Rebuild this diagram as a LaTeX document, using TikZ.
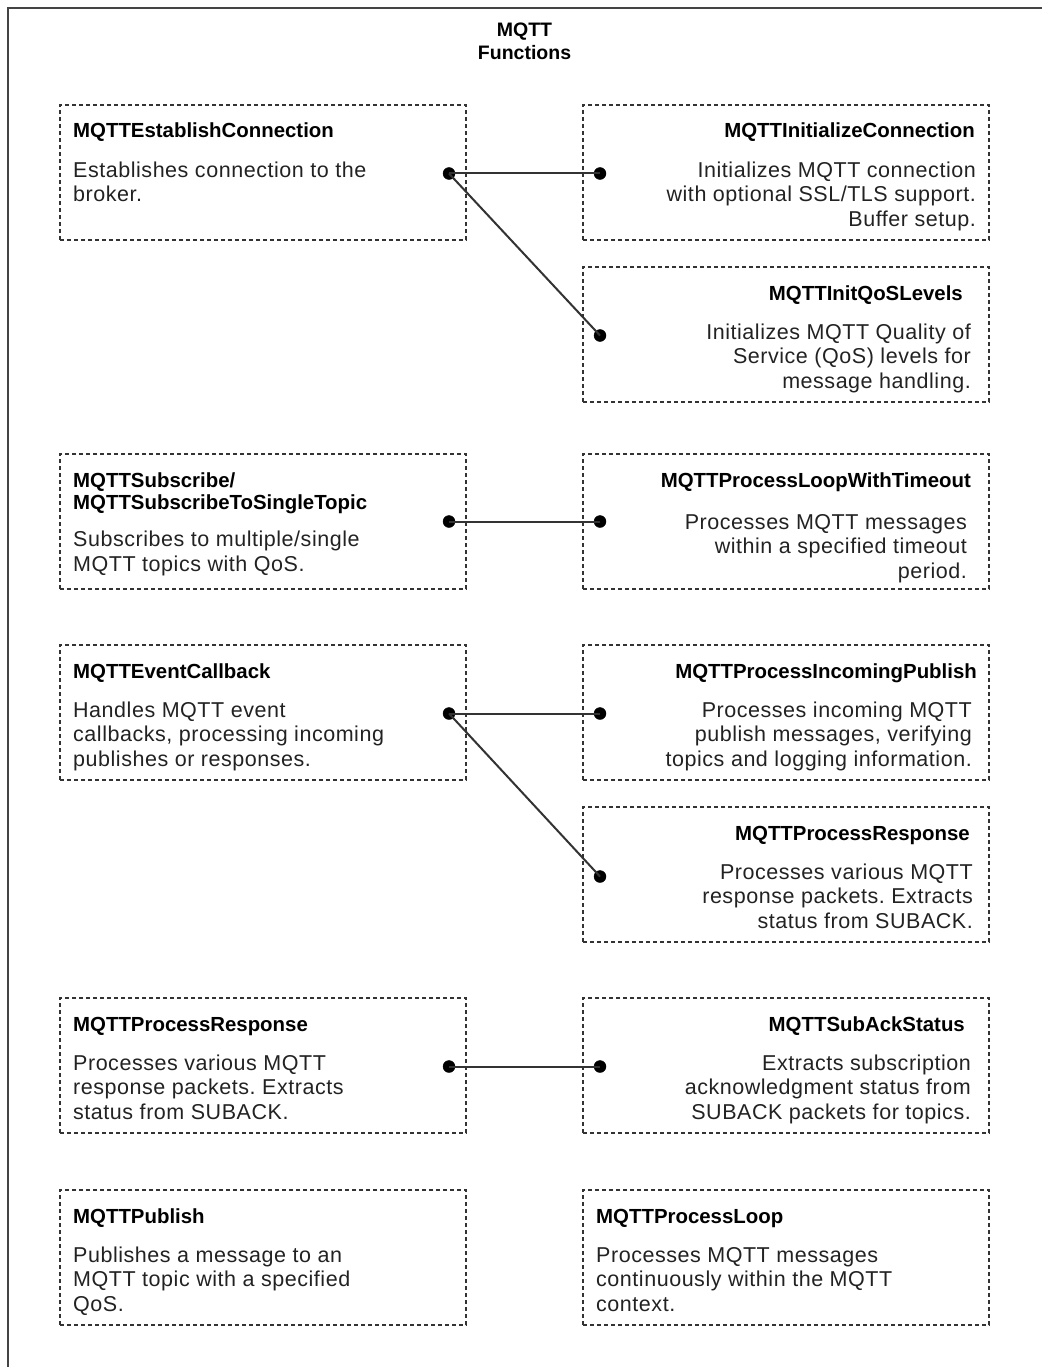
\documentclass[tikz,border=0pt]{standalone}
\usepackage{fontspec}
\setmainfont{Liberation Sans}
\newfontfamily\cardbodyfont[LetterSpace=2.5]{Liberation Sans}
\usetikzlibrary{calc}
\frenchspacing

\definecolor{framegray}{HTML}{444444}
\definecolor{edgegray}{HTML}{333333}
\definecolor{inkgray}{HTML}{222222}

\tikzset{
  card/.style={draw=edgegray, line width=1.5pt, dash pattern=on 4pt off 3pt,
    minimum width=406pt, minimum height=135pt, anchor=north west,
    inner sep=0pt, outer sep=0pt},
  cardtitle/.style={font=\fontsize{20.4}{22}\selectfont\bfseries, text=black,
    inner sep=0pt},
  cardbody/.style={font=\cardbodyfont\fontsize{21.5}{24.5}\selectfont,
    text=inkgray, inner sep=0pt},
  pin/.style={circle, fill=black, draw=black, inner sep=0pt, minimum size=12pt},
  link/.style={draw=edgegray, line width=2pt}
}

% Multi-line nodes sit on the baseline of their last line, so the
% offsets below are measured from the card top to that last baseline.

% card with text on the left: name, top, title, last body baseline, body
\newcommand{\cardLeft}[5]{%
  \node[card] (#1) at (60,#2) {};
  \node[cardtitle, anchor=base west, align=left] (#1-t)
    at ($(#1.north west)+(13,33)$) {#3};
  \node[cardbody, anchor=base west, align=left] (#1-b)
    at ($(#1.north west)+(13,#4)$) {#5};
}
% card with text on the right:
% name, top, title, title inset, body, body inset, last body baseline
\newcommand{\cardRight}[7]{%
  \node[card] (#1) at (583,#2) {};
  \node[cardtitle, anchor=base east, align=right] (#1-t)
    at ($(#1.north east)+(-#4,33)$) {#3};
  \node[cardbody, anchor=base east, align=right] (#1-b)
    at ($(#1.north east)+(-#6,#7)$) {#5};
}

\begin{document}
\begin{tikzpicture}[x=1pt, y=-1pt]
\useasboundingbox (0,0) rectangle (1041,1367);

% outer frame (runs off the right and bottom edges)
\draw[framegray, line width=2pt] (8,1400) -- (8,8) -- (1100,8);

% heading
\node[font=\fontsize{19.5}{23}\selectfont\bfseries, align=center,
  anchor=base, inner sep=0pt] (heading) at (524.5,60) {MQTT\\Functions};

% row 1
\cardLeft{est}{105}{MQTTEstablishConnection}{96.5}%
  {Establishes connection to the\\broker.}
\cardRight{init}{105}{MQTTInitializeConnection}{14}%
  {Initializes MQTT connection\\with optional SSL/TLS support.\\Buffer setup.}{13}{121}
\cardRight{qos}{267}{MQTTInitQoSLevels}{26}%
  {Initializes MQTT Quality of\\Service (QoS) levels for\\message handling.}{18}{121}

% row 2
\node[card] (sub) at (60,454) {};
\node[cardtitle, anchor=base west, align=left] (sub-t)
  at ($(sub.north west)+(13,55)$) {MQTTSubscribe/\\MQTTSubscribeToSingleTopic};
\node[cardbody, anchor=base west, align=left] (sub-b)
  at ($(sub.north west)+(13,117)$) {Subscribes to multiple/single\\MQTT topics with QoS.};
\cardRight{plwt}{454}{MQTTProcessLoopWithTimeout}{18}%
  {Processes MQTT messages\\within a specified timeout\\period.}{22}{124}

% row 3
\cardLeft{evt}{645}{MQTTEventCallback}{121}%
  {Handles MQTT event\\callbacks, processing incoming\\publishes or responses.}
\cardRight{pip}{645}{MQTTProcessIncomingPublish}{12}%
  {Processes incoming MQTT\\publish messages, verifying\\topics and logging information.}{17}{121}
\cardRight{presp}{807}{MQTTProcessResponse}{19}%
  {Processes various MQTT\\response packets. Extracts\\status from SUBACK.}{16}{121}

% row 4
\cardLeft{resp}{998}{MQTTProcessResponse}{121}%
  {Processes various MQTT\\response packets. Extracts\\status from SUBACK.}
\cardRight{suback}{998}{MQTTSubAckStatus}{24}%
  {Extracts subscription\\acknowledgment status from\\SUBACK packets for topics.}{18}{121}

% row 5
\cardLeft{pub}{1190}{MQTTPublish}{121}%
  {Publishes a message to an\\MQTT topic with a specified\\QoS.}
\node[card] (loop) at (583,1190) {};
\node[cardtitle, anchor=base west] (loop-t) at ($(loop.north west)+(13,33)$) {MQTTProcessLoop};
\node[cardbody, anchor=base west, align=left] (loop-b) at ($(loop.north west)+(13,121)$)
  {Processes MQTT messages\\continuously within the MQTT\\context.};

% connector end points
\node[pin] (p-est)   at ($(est.east)+(-17,1)$) {};
\node[pin] (p-init)  at ($(init.west)+(17,1)$) {};
\node[pin] (p-qos)   at ($(qos.west)+(17,1)$) {};
\node[pin] (p-sub)   at ($(sub.east)+(-17,0)$) {};
\node[pin] (p-plwt)  at ($(plwt.west)+(17,0)$) {};
\node[pin] (p-evt)   at ($(evt.east)+(-17,1)$) {};
\node[pin] (p-pip)   at ($(pip.west)+(17,1)$) {};
\node[pin] (p-presp) at ($(presp.west)+(17,2)$) {};
\node[pin] (p-resp)  at ($(resp.east)+(-17,1)$) {};
\node[pin] (p-suback) at ($(suback.west)+(17,1)$) {};

% connectors
\draw[link] (p-est.center) -- (p-init.center);
\draw[link] (p-est.center) -- (p-qos.center);
\draw[link] (p-sub.center) -- (p-plwt.center);
\draw[link] (p-evt.center) -- (p-pip.center);
\draw[link] (p-evt.center) -- (p-presp.center);
\draw[link] (p-resp.center) -- (p-suback.center);
\end{tikzpicture}
\end{document}
